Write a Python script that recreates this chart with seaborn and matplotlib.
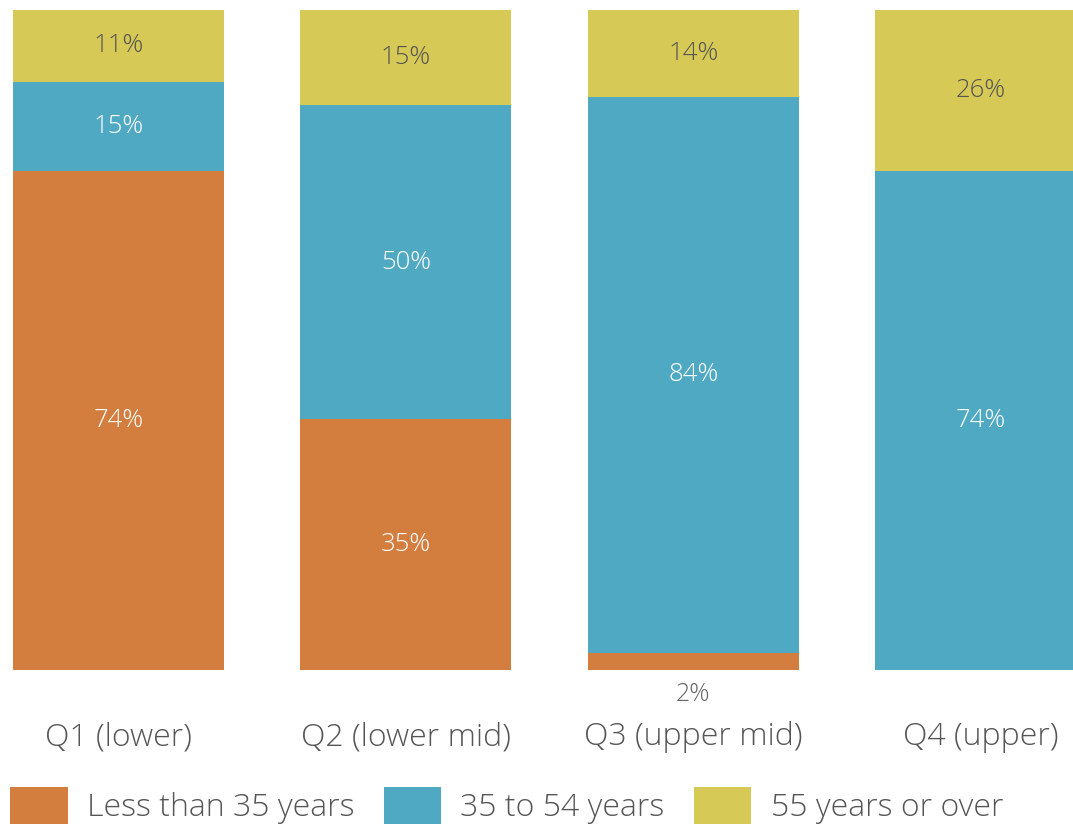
import pandas as pd
import matplotlib.pyplot as plt
import seaborn as sns
from matplotlib.patches import Patch

# shares as drawn (percent of bar height) and the labels shown on them
quartiles = ['Q1 (lower)', 'Q2 (lower mid)', 'Q3 (upper mid)', 'Q4 (upper)']
under_35 = [75.6, 38.0, 2.6, 0.0]
from_35_to_54 = [13.5, 47.6, 84.2, 75.6]
over_55 = [10.9, 14.4, 13.2, 24.4]
under_35_labels = ['74%', '35%', '2%', '']
from_35_to_54_labels = ['15%', '50%', '84%', '74%']
over_55_labels = ['11%', '15%', '14%', '26%']
series_names = ['Less than 35 years', '35 to 54 years', '55 years or over']

colors = ['#D37E3E', '#4FA9C3', '#D7C956']
text_dark = '#555555'

sns.set_theme(style='white')
plt.rcParams['font.family'] = ['Open Sans', 'DejaVu Sans']
plt.rcParams['font.weight'] = 'light'

df = pd.DataFrame({'quartile': quartiles, 'under': under_35,
                   'mid': from_35_to_54, 'over': over_55})

fig = plt.figure(figsize=(10.73, 8.25), dpi=100)
ax = fig.add_axes([0, 155 / 825, 1, 660 / 825])

bar_w = 0.734
layers = [('under', under_35_labels), ('mid', from_35_to_54_labels), ('over', over_55_labels)]
bottom = [0.0] * len(quartiles)
for (col, labels), color in zip(layers, colors):
    sns.barplot(data=df, x='quartile', y=col, order=quartiles, color=color,
                width=bar_w, bottom=bottom, linewidth=0, saturation=1, ax=ax)
    for i, (v, lab) in enumerate(zip(df[col], labels)):
        if not lab:
            continue
        if v < 5:
            # tiny segment: label goes under the bar
            ax.annotate(lab, (i, bottom[i]), xytext=(0, -17.5), textcoords='offset points',
                        ha='center', va='center', fontsize=18, color='#666666')
        else:
            txt_color = text_dark if col == 'over' else 'white'
            ax.text(i, bottom[i] + v / 2, lab, ha='center', va='center',
                    fontsize=18.5, color=txt_color)
    bottom = [b + v for b, v in zip(bottom, df[col])]

ax.set_xlim(-0.412, 3.3215)
ax.set_ylim(0, 100)
ax.set_xlabel('')
ax.set_ylabel('')
ax.set_yticks([])
ax.tick_params(axis='x', length=0, pad=37, labelsize=23, labelcolor=text_dark)
sns.despine(ax=ax, left=True, bottom=True)

handles = [Patch(facecolor=c, edgecolor='none', label=n) for c, n in zip(colors, series_names)]
fig.legend(handles=handles, loc='upper left', bbox_to_anchor=(10 / 1073, 1 - 787 / 825),
           ncol=3, frameon=False, fontsize=23, labelcolor=text_dark, borderpad=0,
           borderaxespad=0, handlelength=1.8, handleheight=1.4, handletextpad=0.6,
           columnspacing=0.92)

fig.savefig('out.png', dpi=100)
